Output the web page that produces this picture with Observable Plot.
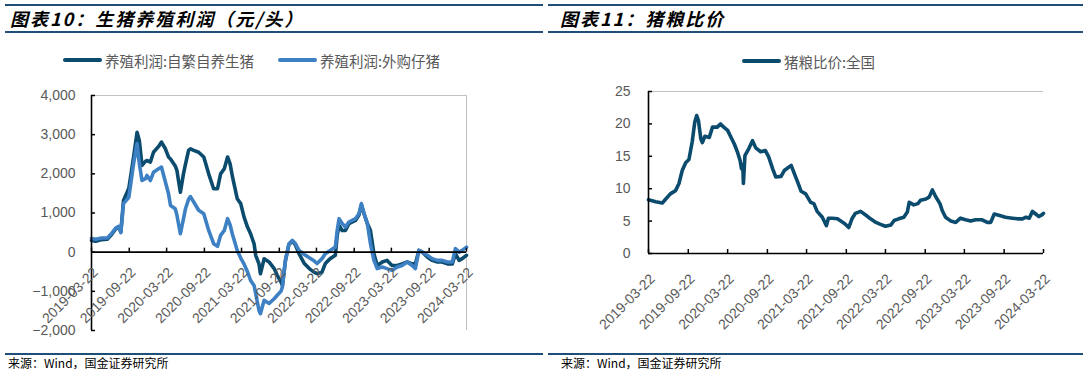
<!DOCTYPE html>
<html><head><meta charset="utf-8">
<script src="https://cdn.jsdelivr.net/npm/d3@7"></script>
<script src="https://cdn.jsdelivr.net/npm/@observablehq/plot@0.6"></script>
<style>
body{margin:0;background:#fff;width:1086px;height:376px;overflow:hidden;position:relative;font-family:"Liberation Sans",Arial,sans-serif;}
.hline{position:absolute;height:2px;background:#1f4e79;}
.title{position:absolute;font-family:"Noto Sans CJK SC";font-style:italic;font-weight:bold;font-size:18px;color:#000;white-space:nowrap;line-height:20px;letter-spacing:2px;}
.legend{position:absolute;font-family:"Noto Sans CJK SC";font-size:14.5px;color:#595959;white-space:nowrap;display:flex;align-items:center;height:20px;}
.sw{display:inline-block;width:39px;height:4px;border-radius:2px;margin-right:3px;}
.foot{position:absolute;font-family:"Noto Sans CJK SC";font-size:12px;color:#000;white-space:nowrap;line-height:14px;}
.chart{position:absolute;}
.chart svg{overflow:visible;}
</style></head>
<body>
<div class="hline" style="left:5px;top:4px;width:538px"></div>
<div class="hline" style="left:5px;top:31px;width:538px"></div>
<div class="hline" style="left:548px;top:4px;width:535px"></div>
<div class="hline" style="left:548px;top:31px;width:535px"></div>
<div class="title" style="left:10px;top:8px">图表10：生猪养殖利润（元/头）</div>
<div class="title" style="left:560px;top:8px">图表11：猪粮比价</div>
<div id="legL" class="legend" style="left:63px;top:50px"></div>
<div id="legR" class="legend" style="left:742px;top:51px"></div>
<div id="chartL" class="chart" style="left:0;top:80px"></div>
<div id="chartR" class="chart" style="left:543px;top:80px"></div>
<div class="hline" style="left:5px;top:353px;width:538px"></div>
<div class="hline" style="left:548px;top:353px;width:535px"></div>
<div class="foot" style="left:8px;top:356px">来源：Wind，国金证券研究所</div>
<div class="foot" style="left:561px;top:356px">来源：Wind，国金证券研究所</div>
<script>
// ---------- data ----------
const xTickLabels = ["2019-03-22","2019-09-22","2020-03-22","2020-09-22","2021-03-22","2021-09-22","2022-03-22","2022-09-22","2023-03-22","2023-09-22","2024-03-22"];
const profitTicks = [-2000,-1000,0,1000,2000,3000,4000];
const ratioTicks = [0,5,10,15,20,25];
const profitSeriesNames = ["养殖利润:自繁自养生猪","养殖利润:外购仔猪"];
const ratioSeriesName = "猪粮比价:全国";

const profitDates = [
"2019-03-22","2019-04-12","2019-05-10","2019-06-07","2019-06-28","2019-07-19","2019-08-02","2019-08-12","2019-08-25","2019-09-20",
"2019-10-13","2019-10-30","2019-11-10","2019-11-23","2019-12-10","2019-12-17","2020-01-03","2020-01-18","2020-02-12","2020-02-26",
"2020-03-16","2020-03-31","2020-04-10","2020-05-03","2020-05-11","2020-05-28","2020-06-12","2020-06-22","2020-07-07","2020-07-16",
"2020-08-01","2020-08-25","2020-09-19","2020-10-13","2020-11-06","2020-11-25","2020-12-10","2020-12-28","2021-01-13","2021-01-25",
"2021-02-06","2021-03-01","2021-03-18","2021-04-03","2021-04-20","2021-05-05","2021-05-22","2021-05-30","2021-06-15","2021-06-22",
"2021-07-10","2021-08-03","2021-08-28","2021-09-12","2021-09-30","2021-10-07","2021-10-22","2021-11-08","2021-11-25","2021-12-10",
"2021-12-27","2022-01-22","2022-02-15","2022-03-10","2022-03-25","2022-04-18","2022-05-04","2022-05-28","2022-06-22","2022-07-01",
"2022-07-10","2022-07-25","2022-08-10","2022-08-27","2022-09-28","2022-10-15","2022-10-27","2022-11-09","2022-11-25","2022-12-10",
"2022-12-27","2023-01-12","2023-02-06","2023-03-01","2023-03-25","2023-04-20","2023-05-13","2023-06-07","2023-07-01","2023-07-17",
"2023-08-03","2023-08-20","2023-09-13","2023-10-07","2023-11-01","2023-11-25","2023-12-20","2024-01-13","2024-01-28","2024-02-15",
"2024-03-01","2024-03-22"];
const profitSelfBred = [
300,280,320,330,450,600,640,520,1320,1630,
2430,3060,2850,2215,2320,2340,2300,2550,2700,2810,
2640,2430,2380,2200,2090,1530,2000,2250,2600,2640,
2600,2550,2430,2000,1620,1620,2000,2130,2430,2260,
1920,1365,1240,900,640,470,215,-80,-300,-550,
-170,-250,-420,-590,-760,-850,-210,200,280,180,
-40,-290,-420,-510,-550,-510,-290,-165,-80,430,
680,555,555,730,810,950,1200,980,730,555,
-40,-340,-250,-210,-340,-340,-300,-250,-300,-300,
45,0,-125,-210,-250,-250,-300,-300,-40,-210,
-165,-80];
const profitPurchased = [
350,330,360,360,480,620,660,500,1240,1400,
2260,2770,2260,1830,1875,1960,1830,2040,2130,2170,
1790,1500,1190,1110,950,470,850,1110,1350,1420,
1280,1070,980,555,215,150,430,555,855,700,
450,45,-150,-300,-500,-720,-850,-1060,-1490,-1570,
-1230,-1310,-1190,-1100,-1000,-890,-210,215,300,215,
45,-60,-140,-220,-290,-165,-40,45,130,555,
855,730,640,770,855,980,1240,980,730,215,
-210,-420,-380,-420,-465,-380,-340,-250,-340,-420,
45,0,-80,-165,-210,-210,-250,-250,90,0,
45,130];

const ratioDates = [
"2019-03-22","2019-04-24","2019-05-25","2019-06-10","2019-07-01","2019-07-25","2019-08-10","2019-08-25","2019-09-10","2019-09-25",
"2019-10-10","2019-10-22","2019-10-31","2019-11-08","2019-11-19","2019-11-26","2019-12-08","2019-12-28","2020-01-12","2020-02-03",
"2020-02-18","2020-03-04","2020-03-22","2020-04-07","2020-04-22","2020-05-07","2020-05-19","2020-05-25","2020-05-31","2020-06-03",
"2020-06-10","2020-06-28","2020-07-15","2020-07-30","2020-08-22","2020-09-12","2020-09-28","2020-10-16","2020-10-31","2020-11-24",
"2020-12-09","2021-01-10","2021-01-25","2021-02-09","2021-02-25","2021-03-18","2021-04-10","2021-04-25","2021-05-10","2021-06-03",
"2021-06-22","2021-07-01","2021-07-19","2021-08-12","2021-09-15","2021-10-03","2021-10-18","2021-11-03","2021-11-27","2021-12-22",
"2022-01-12","2022-02-06","2022-02-27","2022-03-22","2022-04-16","2022-05-01","2022-05-22","2022-06-15","2022-07-01","2022-07-10",
"2022-07-31","2022-08-19","2022-08-31","2022-09-25","2022-10-10","2022-10-25","2022-11-09","2022-11-29","2022-12-10","2022-12-25",
"2023-01-19","2023-02-10","2023-03-04","2023-03-28","2023-04-20","2023-05-13","2023-06-12","2023-07-06","2023-07-22","2023-08-07",
"2023-08-28","2023-09-28","2023-10-30","2023-11-22","2023-12-16","2024-01-01","2024-01-16","2024-01-31","2024-02-15","2024-03-01",
"2024-03-16","2024-03-22"];
const ratioValues = [
8.3,8.0,7.8,8.4,9.2,9.7,10.8,12.8,14.0,14.5,
17.2,20.3,21.3,20.5,17.7,17.1,18.1,17.9,19.5,19.5,
20.0,19.5,19.0,17.9,16.9,15.6,14.3,13.1,13.6,10.8,
15.1,16.2,17.4,16.3,15.7,15.9,14.9,13.1,11.8,11.9,
12.8,13.6,12.3,11.0,9.6,9.2,7.9,7.7,6.5,5.6,
4.3,5.45,5.45,5.35,4.6,4.0,5.35,6.2,6.5,5.9,
5.35,4.8,4.5,4.2,4.4,5.1,5.35,5.6,6.4,7.9,
7.5,7.7,8.2,8.4,8.7,9.8,8.8,7.7,6.6,5.6,
5.0,4.8,5.45,5.2,5.0,5.2,5.2,4.8,4.8,6.1,
5.9,5.6,5.45,5.35,5.35,5.6,5.45,6.5,6.1,5.7,
6.0,6.2];

// ---------- styles ----------
const DARK = "#0b4b6e", LIGHT = "#3e80c4", GRAY_TXT = "#595959";
const parse = d3.utcParse("%Y-%m-%d");
const tickDates = xTickLabels.map(parse);
const fmtDate = d3.utcFormat("%Y-%m-%d");

// legends
function legend(el, items) {
  el.innerHTML = items.map((it, i) =>
    `<span class="sw" style="background:${it.color}"></span><span style="margin-right:${i < items.length-1 ? 24 : 0}px">${it.name}</span>`
  ).join("");
}
legend(document.getElementById("legL"), [{name: profitSeriesNames[0], color: DARK}, {name: profitSeriesNames[1], color: LIGHT}]);
legend(document.getElementById("legR"), [{name: ratioSeriesName, color: DARK}]);

function chart({data, series, yTicks, yFmt, width, height, mL, mR, mT, mB, rightBorder, labelDy, labelDx, yLabelDx}) {
  const x0 = tickDates[0], x1 = tickDates[tickDates.length - 1];
  const y0 = d3.min(yTicks), y1 = d3.max(yTicks);
  const pw = width - mL - mR, ph = height - mT - mB;
  const tickLenX = 4 * (x1 - x0) / pw;       // 4px expressed in time units
  const tickLenY = 4 * (y1 - y0) / ph;       // 4px expressed in value units
  const marks = [
    Plot.ruleY([y1], {stroke: "#c0c0c0", strokeWidth: 1}),
    rightBorder ? Plot.ruleX([x1], {stroke: "#c0c0c0", strokeWidth: 1}) : null,
    ...series.map(s => Plot.line(data, {x: "date", y: s.key, stroke: s.color, strokeWidth: 3.6, strokeLinejoin: "round", strokeLinecap: "round"})),
    Plot.ruleY([0], {stroke: "#000", strokeWidth: 1.6}),
    Plot.ruleX([x0], {stroke: "#000", strokeWidth: 1.6}),
    Plot.ruleX(tickDates, {x: d => d, y1: 0, y2: tickLenY, stroke: "#000", strokeWidth: 1.5}),
    Plot.ruleY(yTicks, {y: d => d, x1: x0, x2: new Date(+x0 + tickLenX), stroke: "#000", strokeWidth: 1.5}),
    Plot.text(yTicks, {y: d => d, frameAnchor: "left", textAnchor: "end", dx: yLabelDx, text: yFmt, fill: GRAY_TXT, fontSize: 14}),
    Plot.text(tickDates, {x: d => d, y: 0, text: fmtDate, rotate: -45, textAnchor: "end", dx: labelDx, dy: labelDy, fill: GRAY_TXT, fontSize: 14})
  ].filter(Boolean);
  return Plot.plot({
    width, height, marginLeft: mL, marginRight: mR, marginTop: mT, marginBottom: mB,
    x: {type: "utc", domain: [x0, x1], axis: null},
    y: {domain: [y0, y1], axis: null},
    style: {fontFamily: "'Liberation Sans', Arial, sans-serif", overflow: "visible", background: "transparent"},
    marks
  });
}

const profitData = profitDates.map((d, i) => ({date: parse(d), self: profitSelfBred[i], bought: profitPurchased[i]}));
const ratioData = ratioDates.map((d, i) => ({date: parse(d), v: ratioValues[i]}));

document.getElementById("chartL").append(chart({
  data: profitData,
  series: [{key: "self", color: DARK}, {key: "bought", color: LIGHT}],
  yTicks: profitTicks, yFmt: d3.format(","),
  width: 543, height: 265, mL: 91, mR: 77, mT: 15, mB: 15,
  rightBorder: true, labelDx: 4, labelDy: 18, yLabelDx: -16
}));
document.getElementById("chartR").append(chart({
  data: ratioData,
  series: [{key: "v", color: DARK}],
  yTicks: ratioTicks, yFmt: d => String(d),
  width: 543, height: 265, mL: 105, mR: 43, mT: 11, mB: 92,
  rightBorder: false, labelDx: 4, labelDy: 23, yLabelDx: -18
}));
</script>
</body></html>
